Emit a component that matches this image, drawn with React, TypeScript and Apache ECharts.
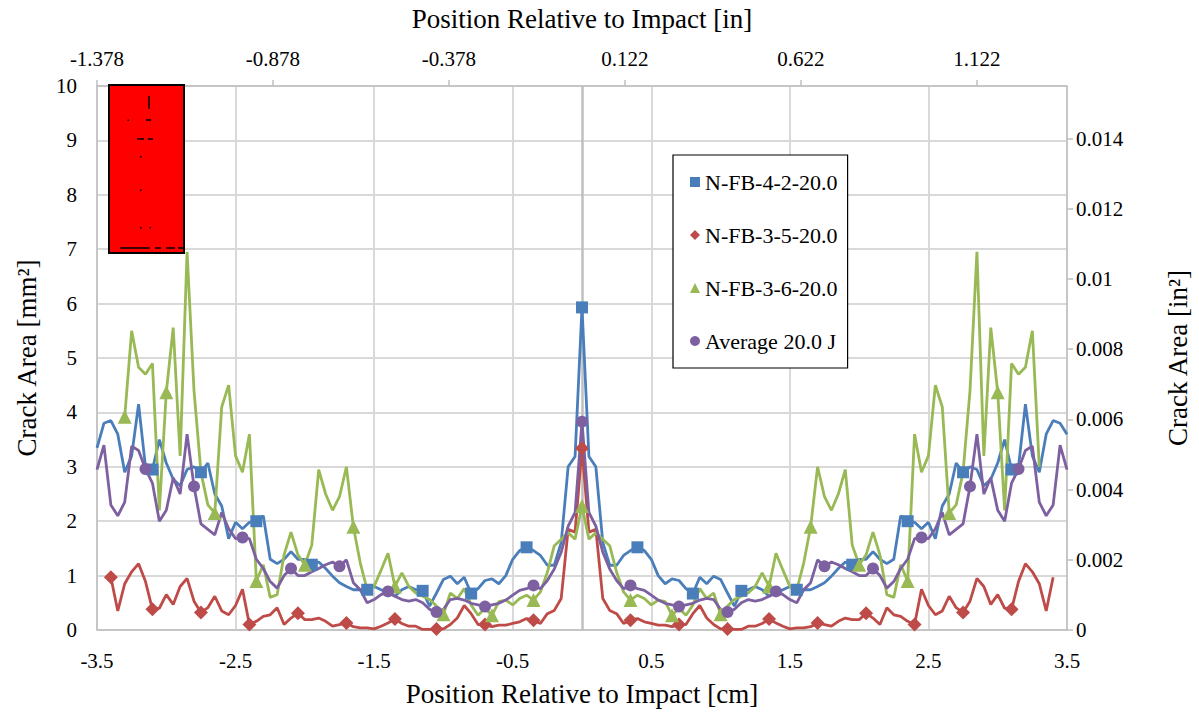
import React, { useEffect, useRef } from "react";
import * as echarts from "echarts";

// Sampling grid: -3.5 cm .. 3.5 cm, step 0.05 cm (141 samples)
const STEP_CM = 0.05;
const N_POINTS = 141;
const CENTER = 70;

const seriesNames = ["N-FB-4-2-20.0", "N-FB-3-5-20.0", "N-FB-3-6-20.0", "Average 20.0 J"];
const seriesColors = ["#4A7EBB", "#BE4B48", "#98B954", "#7D60A0"];
const seriesSymbols = ["rect", "diamond", "triangle", "circle"];

// Crack area [mm^2], left half (-3.5 .. 0 cm) and right half (0.05 .. 3.5 cm)
const blueLeft = [
  3.35, 3.8, 3.85, 3.6, 2.9, 3.2, 4.15, 3.0, 2.95, 3.5,
  3.07, 2.77, 2.65, 2.95, 3.0, 2.9, 3.07, 2.5, 2.28, 1.68,
  1.98, 1.86, 1.98, 2.0, 2.1, 1.3, 1.22, 1.3, 1.44, 1.3,
  1.3, 1.2, 1.25, 1.13, 0.99, 0.87, 0.8, 0.74, 0.74, 0.74,
  0.8, 0.74, 0.68, 0.62, 0.74, 0.8, 0.74, 0.72, 0.44, 0.68,
  0.93, 0.99, 0.85, 0.97, 0.67, 0.76, 0.91, 0.94, 0.85, 1.0,
  1.3, 1.46, 1.52, 1.46, 1.37, 1.19, 1.19, 1.61, 3.0, 3.19,
  5.93,
];
const blueRight = [
  3.19, 3.0, 1.61, 1.19, 1.19, 1.37, 1.46, 1.52, 1.46, 1.3,
  1.0, 0.85, 0.94, 0.91, 0.76, 0.67, 0.97, 0.85, 0.99, 0.93,
  0.68, 0.44, 0.72, 0.74, 0.8, 0.74, 0.62, 0.68, 0.74, 0.8,
  0.74, 0.74, 0.74, 0.8, 0.87, 0.99, 1.13, 1.25, 1.2, 1.3,
  1.3, 1.44, 1.3, 1.22, 1.3, 2.1, 2.0, 1.98, 1.86, 1.98,
  1.68, 2.28, 2.5, 3.07, 2.9, 3.0, 2.95, 2.65, 2.77, 3.07,
  3.5, 2.95, 3.0, 4.15, 3.2, 2.9, 3.6, 3.85, 3.8, 3.6,
];

const redLeft = [
  null, null, 0.97, 0.35, 0.85, 1.07, 1.22, 0.89, 0.38, 0.4,
  0.65, 0.47, 0.8, 0.95, 0.53, 0.32, 0.41, 0.62, 0.35, 0.28,
  0.45, 0.75, 0.1, 0.16, 0.25, 0.28, 0.41, 0.1, 0.22, 0.31,
  0.19, 0.19, 0.22, 0.16, 0.07, 0.1, 0.13, 0.06, 0.04, 0.04,
  0.02, 0.07, 0.13, 0.2, 0.12, 0.07, 0.07, 0.01, 0.01, 0.02,
  0.02, 0.1, 0.22, 0.45, 0.3, 0.1, 0.1, 0.06, 0.09, 0.09,
  0.12, 0.15, 0.21, 0.18, 0.12, 0.3, 0.36, 0.58, 1.85, 1.8,
  3.34,
];
const redRight = [
  1.8, 1.85, 0.58, 0.36, 0.3, 0.12, 0.18, 0.21, 0.15, 0.12,
  0.09, 0.09, 0.06, 0.1, 0.1, 0.3, 0.45, 0.22, 0.1, 0.02,
  0.02, 0.01, 0.01, 0.07, 0.07, 0.12, 0.2, 0.13, 0.07, 0.02,
  0.04, 0.04, 0.06, 0.13, 0.1, 0.07, 0.16, 0.22, 0.19, 0.19,
  0.31, 0.22, 0.1, 0.41, 0.28, 0.25, 0.16, 0.1, 0.75, 0.45,
  0.28, 0.35, 0.62, 0.41, 0.32, 0.53, 0.95, 0.8, 0.47, 0.65,
  0.4, 0.38, 0.89, 1.22, 1.07, 0.85, 0.35, 0.97, null, null,
];

const greenLeft = [
  null, null, null, null, 3.92, 5.5, 4.83, 4.7, 4.9, 2.2,
  4.37, 5.56, 3.2, 6.95, 4.4, 2.9, 2.3, 2.15, 4.1, 4.5,
  3.2, 2.9, 3.6, 0.9, 1.2, 0.6, 0.65, 1.38, 1.8, 1.38,
  1.2, 1.56, 2.95, 2.5, 2.2, 2.45, 3.0, 1.9, 1.23, 0.74,
  0.8, 1.1, 1.41, 0.8, 1.05, 0.8, 0.68, 0.62, 0.56, 0.44,
  0.29, 0.68, 0.58, 0.76, 0.46, 0.27, 0.4, 0.27, 0.52, 0.55,
  0.46, 0.58, 0.64, 0.55, 0.7, 1.06, 1.55, 1.67, 1.79, 1.67,
  2.28,
];
const greenRight = [
  1.67, 1.79, 1.67, 1.55, 1.06, 0.7, 0.55, 0.64, 0.58, 0.46,
  0.55, 0.52, 0.27, 0.4, 0.27, 0.46, 0.76, 0.58, 0.68, 0.29,
  0.44, 0.56, 0.62, 0.68, 0.8, 1.05, 0.8, 1.41, 1.1, 0.8,
  0.74, 1.23, 1.9, 3.0, 2.45, 2.2, 2.5, 2.95, 1.56, 1.2,
  1.38, 1.8, 1.38, 0.65, 0.6, 1.2, 0.9, 3.6, 2.9, 3.2,
  4.5, 4.1, 2.15, 2.3, 2.9, 4.4, 6.95, 3.2, 5.56, 4.37,
  2.2, 4.9, 4.7, 4.83, 5.5, 3.0, null, null, null, null,
];

const purpleLeft = [
  2.95, 3.4, 2.3, 2.1, 2.35, 3.38, 3.3, 2.96, 2.7, 2.0,
  2.2, 2.8, 2.5, 3.6, 2.64, 1.95, 1.85, 1.75, 2.16, 1.86,
  1.68, 1.7, 1.68, 1.3, 1.13, 0.89, 0.77, 1.0, 1.13, 1.0,
  1.0, 1.07, 1.13, 1.2, 1.25, 1.17, 1.29, 0.87, 0.74, 0.5,
  0.56, 0.65, 0.71, 0.62, 0.56, 0.53, 0.56, 0.5, 0.38, 0.33,
  0.38, 0.56, 0.58, 0.55, 0.49, 0.46, 0.43, 0.46, 0.49, 0.55,
  0.64, 0.73, 0.76, 0.82, 0.76, 0.91, 1.12, 1.43, 1.91, 2.16,
  3.83,
];
const purpleRight = [
  2.16, 1.91, 1.43, 1.12, 0.91, 0.76, 0.82, 0.76, 0.73, 0.64,
  0.55, 0.49, 0.46, 0.43, 0.46, 0.49, 0.55, 0.58, 0.56, 0.38,
  0.33, 0.38, 0.5, 0.56, 0.53, 0.56, 0.62, 0.71, 0.65, 0.56,
  0.5, 0.74, 0.87, 1.29, 1.17, 1.25, 1.2, 1.13, 1.07, 1.0,
  1.0, 1.13, 1.0, 0.77, 0.89, 1.13, 1.3, 1.68, 1.7, 1.68,
  1.86, 2.16, 1.75, 1.85, 1.95, 2.64, 3.6, 2.5, 2.8, 2.2,
  2.0, 2.7, 2.96, 3.3, 3.38, 2.35, 2.1, 2.3, 3.4, 2.95,
];

// marker spacing (in samples) and number of markers left / right of the centre
const markerSpacing = [7.8, 6.84, 6.65, 7.0];
const markerCountLeft = [8, 10, 10, 9];
const markerCountRight = [8, 9, 9, 9];

const FONT = "'Liberation Serif', 'Times New Roman', serif";

function buildOption() {
  const xs = Array.from({ length: N_POINTS }, (_, i) => Math.round((-3.5 + i * STEP_CM) * 100) / 100);
  const allValues = [
    [...blueLeft, ...blueRight],
    [...redLeft, ...redRight],
    [...greenLeft, ...greenRight],
    [...purpleLeft, ...purpleRight],
  ];

  const series: any[] = [];
  allValues.forEach((vals, s) => {
    const lineData = vals.map((v, i) => [xs[i], v]);
    const idx: number[] = [CENTER];
    for (let k = 1; k <= markerCountLeft[s]; k++) idx.push(Math.round(CENTER - k * markerSpacing[s]));
    for (let k = 1; k <= markerCountRight[s]; k++) idx.push(Math.round(CENTER + k * markerSpacing[s]));
    const markerData = idx
      .filter((i) => i >= 0 && i < N_POINTS && vals[i] != null)
      .map((i) => [xs[i], vals[i]]);

    const line: any = {
      name: seriesNames[s] + " line",
      type: "line",
      data: lineData,
      showSymbol: false,
      symbol: "none",
      connectNulls: false,
      lineStyle: { color: seriesColors[s], width: 2.8 },
      itemStyle: { color: seriesColors[s] },
      emphasis: { disabled: true },
      z: 2,
    };
    if (s === 0) {
      line.markLine = {
        silent: true,
        z: 1,
        symbol: ["none", "none"],
        label: { show: false },
        lineStyle: { color: "#bfbfbf", width: 2.5, type: "solid" },
        data: [{ xAxis: 0 }],
      };
    }
    series.push(line);
    series.push({
      name: seriesNames[s],
      type: "scatter",
      data: markerData,
      symbol: seriesSymbols[s],
      symbolSize: s === 0 ? 12 : s === 3 ? 12 : 14,
      itemStyle: { color: seriesColors[s], opacity: 1 },
      emphasis: { disabled: true },
      z: 2,
    });
  });

  const redMarks: any[] = [
    { type: "rect", shape: { x: 109, y: 85, width: 75, height: 168 }, style: { fill: "#ff0000", stroke: "#000", lineWidth: 2 } },
    { type: "line", shape: { x1: 149, y1: 96, x2: 149, y2: 109 }, style: { stroke: "#000", lineWidth: 1.5 } },
    { type: "line", shape: { x1: 146, y1: 120, x2: 151, y2: 120 }, style: { stroke: "#000", lineWidth: 1.5 } },
    { type: "rect", shape: { x: 127.5, y: 119.5, width: 1.5, height: 1.5 }, style: { fill: "#000" } },
    { type: "line", shape: { x1: 137, y1: 139, x2: 144, y2: 139 }, style: { stroke: "#000", lineWidth: 1.5 } },
    { type: "line", shape: { x1: 148, y1: 139, x2: 153, y2: 139 }, style: { stroke: "#000", lineWidth: 1.5 } },
    { type: "rect", shape: { x: 140, y: 156, width: 1.5, height: 1.5 }, style: { fill: "#000" } },
    { type: "rect", shape: { x: 140, y: 189.5, width: 1.5, height: 1.5 }, style: { fill: "#000" } },
    { type: "rect", shape: { x: 140, y: 227, width: 1.5, height: 1.5 }, style: { fill: "#000" } },
    { type: "rect", shape: { x: 149.5, y: 227, width: 1.5, height: 1.5 }, style: { fill: "#000" } },
    { type: "line", shape: { x1: 120, y1: 248, x2: 150, y2: 248 }, style: { stroke: "#000", lineWidth: 1.5 } },
    { type: "line", shape: { x1: 155, y1: 248, x2: 161, y2: 248 }, style: { stroke: "#000", lineWidth: 1.5 } },
    { type: "line", shape: { x1: 166, y1: 248, x2: 175, y2: 248 }, style: { stroke: "#000", lineWidth: 1.5 } },
    { type: "line", shape: { x1: 178, y1: 248, x2: 183, y2: 248 }, style: { stroke: "#000", lineWidth: 1.5 } },
  ];

  const fmtIn = (v: number) => v.toFixed(3);
  const fmtRight = (v: number) => (v === 0 ? "0" : String(parseFloat(v.toFixed(4))));

  return {
    animation: false,
    backgroundColor: "#ffffff",
    textStyle: { fontFamily: FONT, color: "#000" },
    grid: { left: 97, right: 129, top: 83, bottom: 85, containLabel: false },
    legend: {
      data: seriesNames,
      orient: "vertical",
      left: 673,
      top: 155,
      padding: [16, 10, 16, 17],
      itemGap: 31,
      itemWidth: 10,
      itemHeight: 10,
      backgroundColor: "#ffffff",
      borderColor: "#000000",
      borderWidth: 1.2,
      borderRadius: 0,
      textStyle: { fontSize: 22, fontFamily: FONT, color: "#000" },
      selectedMode: false,
    },
    xAxis: [
      {
        type: "value",
        position: "bottom",
        min: -3.5,
        max: 3.5,
        interval: 1,
        axisLine: { show: true, onZero: false, lineStyle: { color: "#bfbfbf", width: 1.5 } },
        axisTick: { show: false },
        splitLine: { show: true, lineStyle: { color: "#d9d9d9", width: 2 } },
        axisLabel: { color: "#000", fontSize: 21, fontFamily: FONT, margin: 20, formatter: (v: number) => v.toFixed(1) },
        name: "Position Relative to Impact [cm]",
        nameLocation: "middle",
        nameGap: 50,
        nameTextStyle: { fontSize: 27, fontFamily: FONT, color: "#000" },
      },
      {
        type: "value",
        position: "top",
        min: -1.378,
        max: 1.378,
        interval: 0.5,
        axisLine: { show: true, onZero: false, lineStyle: { color: "#bfbfbf", width: 1.5 } },
        axisTick: { show: true, inside: false, length: 6, lineStyle: { color: "#bfbfbf", width: 1.5 } },
        splitLine: { show: false },
        axisLabel: { color: "#000", fontSize: 21, fontFamily: FONT, margin: 17, showMaxLabel: false, formatter: fmtIn },
        name: "Position Relative to Impact [in]",
        nameLocation: "middle",
        nameGap: 54,
        nameTextStyle: { fontSize: 27, fontFamily: FONT, color: "#000" },
      },
    ],
    yAxis: [
      {
        type: "value",
        position: "left",
        min: 0,
        max: 10,
        interval: 1,
        axisLine: { show: true, onZero: false, lineStyle: { color: "#bfbfbf", width: 1.5 } },
        axisTick: { show: false },
        splitLine: { show: true, lineStyle: { color: "#d9d9d9", width: 2 } },
        axisLabel: { color: "#000", fontSize: 21, fontFamily: FONT, margin: 20 },
        name: "Crack Area [mm²]",
        nameLocation: "middle",
        nameGap: 57,
        nameRotate: 90,
        nameTextStyle: { fontSize: 27, fontFamily: FONT, color: "#000" },
      },
      {
        type: "value",
        position: "right",
        min: 0,
        max: 0.0155,
        interval: 0.002,
        axisLine: { show: true, onZero: false, lineStyle: { color: "#bfbfbf", width: 1.5 } },
        axisTick: { show: true, inside: false, length: 6, lineStyle: { color: "#bfbfbf", width: 1.5 } },
        splitLine: { show: false },
        axisLabel: { color: "#000", fontSize: 21, fontFamily: FONT, margin: 9, showMaxLabel: false, formatter: fmtRight },
        name: "Crack Area [in²]",
        nameLocation: "middle",
        nameGap: 97,
        nameRotate: 90,
        nameTextStyle: { fontSize: 27, fontFamily: FONT, color: "#000" },
      },
    ],
    graphic: redMarks.map((g) => ({ ...g, z: 100 })),
    series,
  };
}

export default function App() {
  const ref = useRef<HTMLDivElement | null>(null);
  useEffect(() => {
    document.body.style.margin = "0";
    if (!ref.current) return;
    const chart = echarts.init(ref.current, undefined, { renderer: "svg" });
    chart.setOption(buildOption() as any);
    return () => {
      chart.dispose();
    };
  }, []);
  return (
    <div
      ref={ref}
      style={{ position: "fixed", left: 0, top: 0, width: 1199, height: 715, background: "#fff" }}
    />
  );
}
